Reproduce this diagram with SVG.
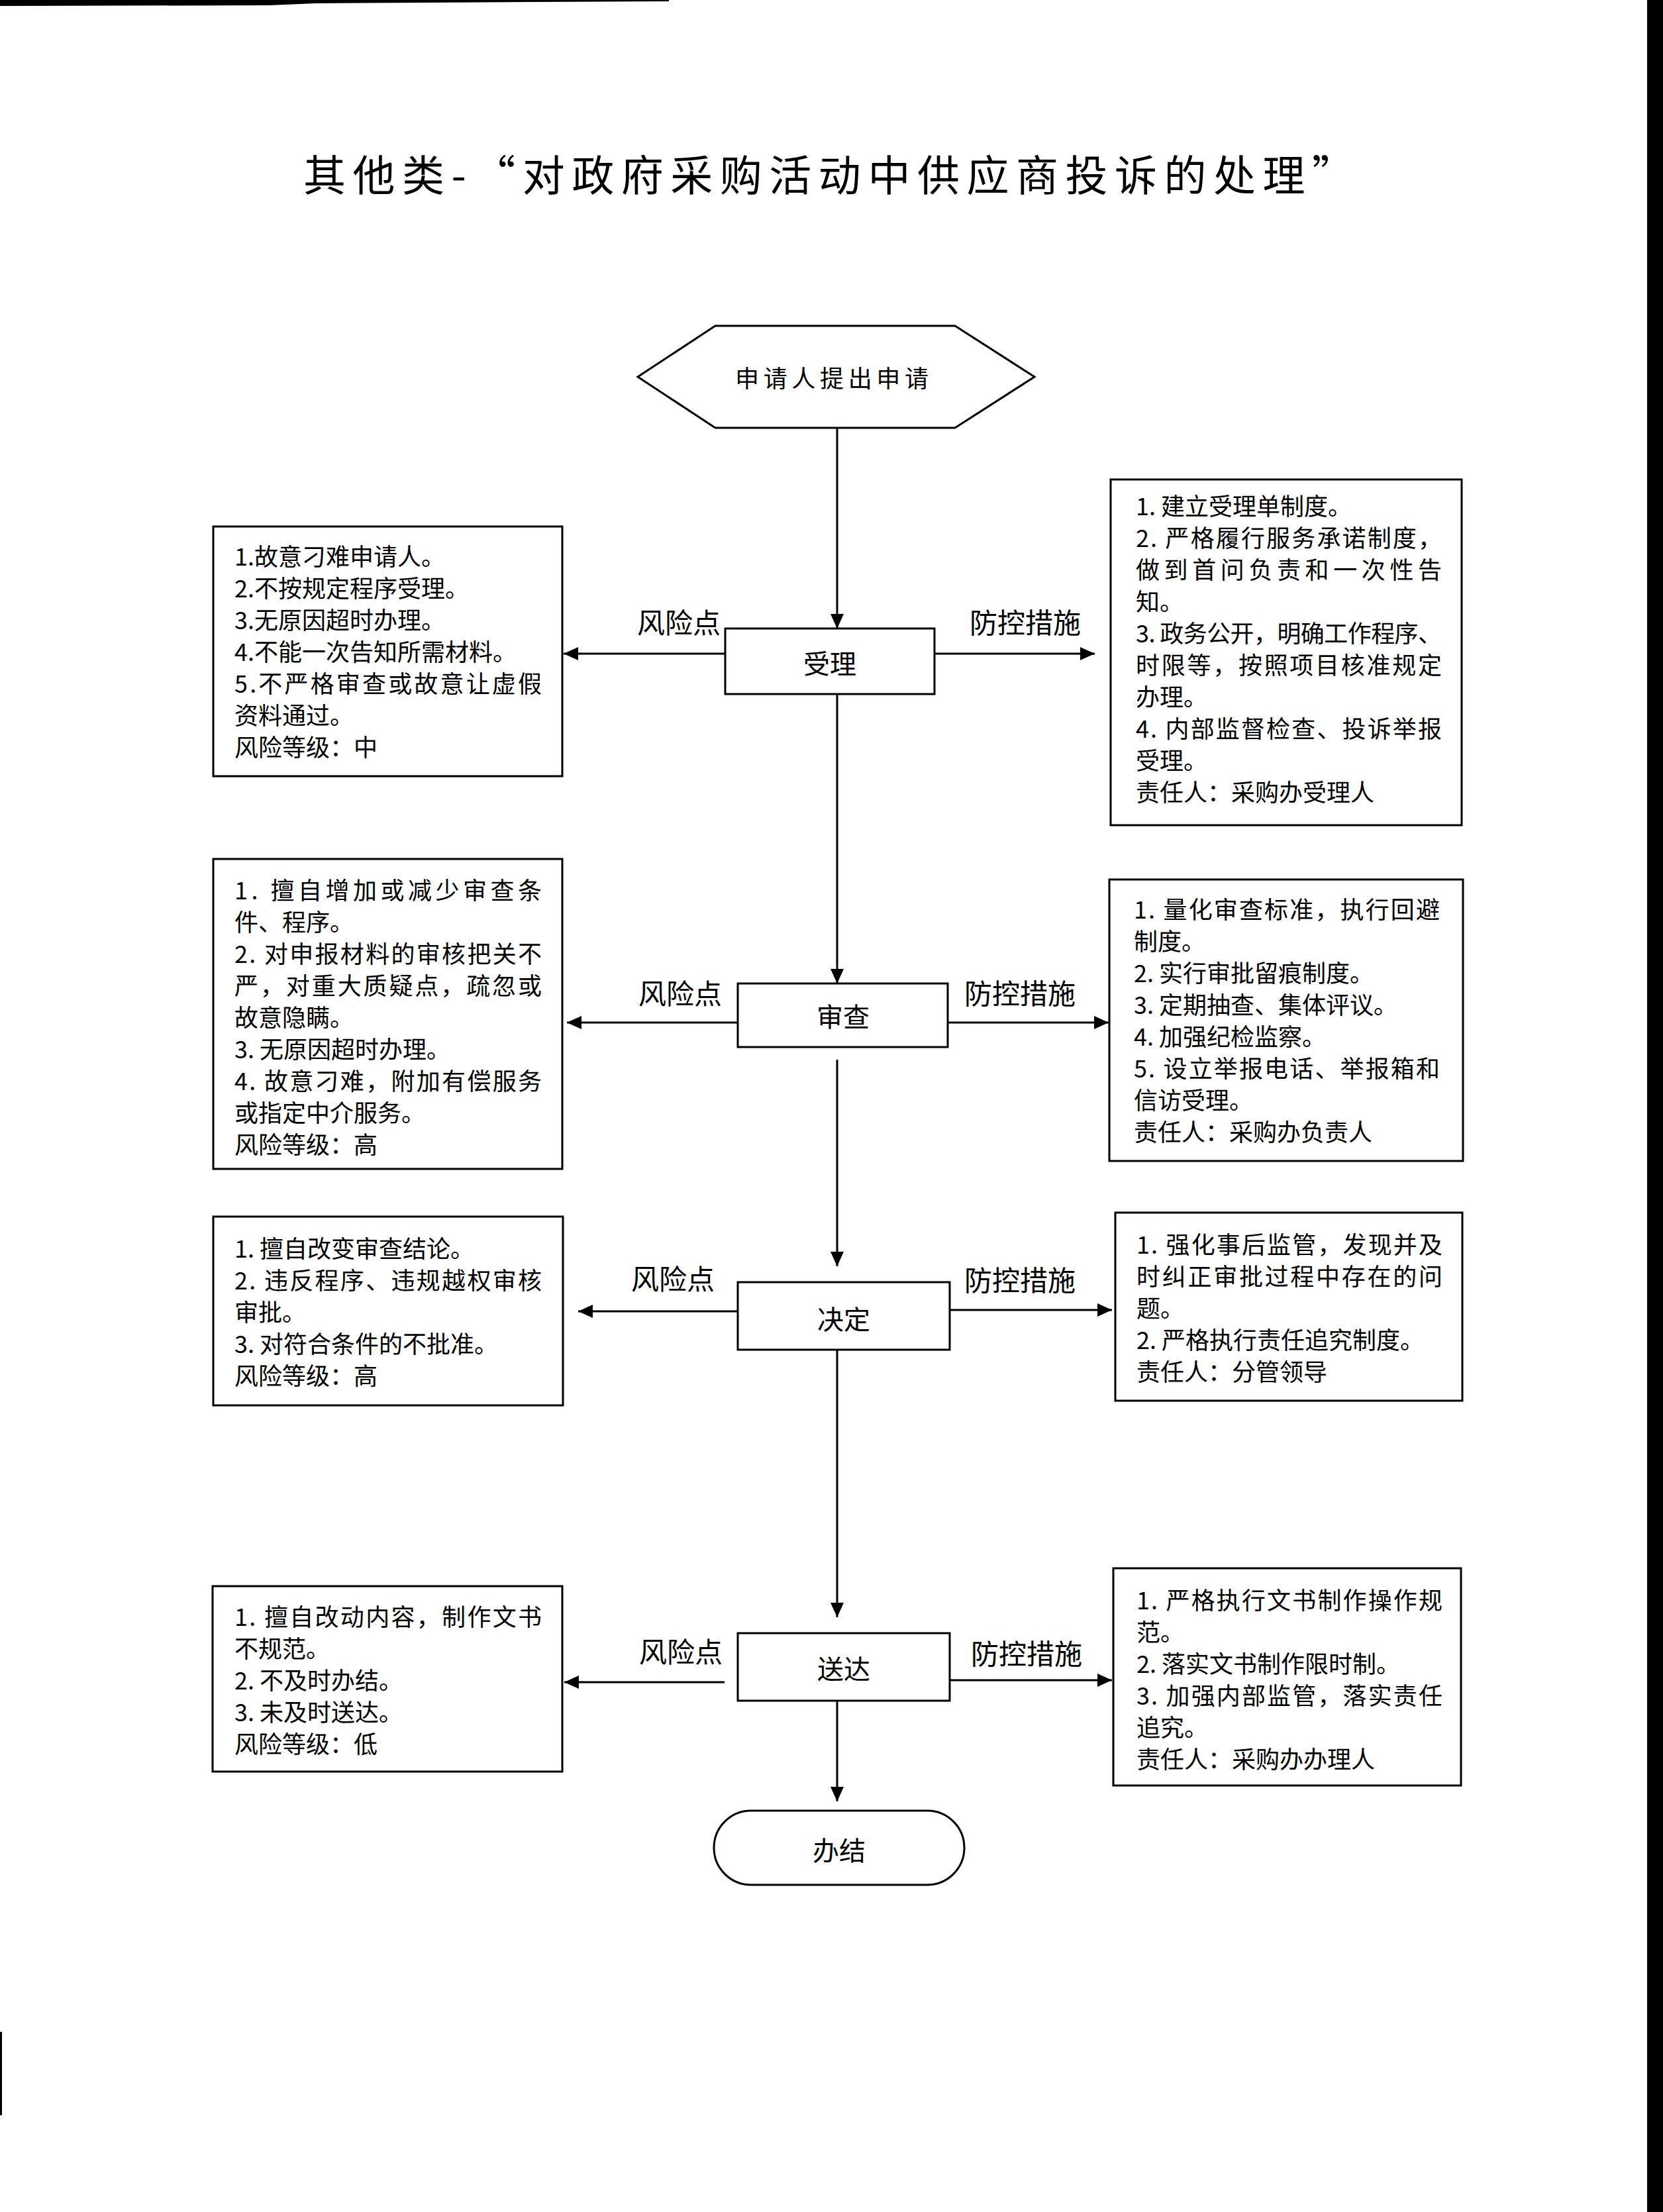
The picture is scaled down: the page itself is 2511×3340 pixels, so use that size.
<svg xmlns="http://www.w3.org/2000/svg" width="2511" height="3340" viewBox="0 0 2511 3340">
<style>
.box{fill:#fff;stroke:#000;stroke-width:3}
.ln{stroke:#000;stroke-width:3;fill:none}
.t{font-family:"Noto Sans CJK SC","Noto Sans",sans-serif;font-size:36px;fill:#000;dominant-baseline:central}
.lbl{font-size:42px;text-anchor:middle}
.nd{font-size:40px;text-anchor:middle}
.ttl{font-size:64px}
</style>
<defs>
<marker id="ah" viewBox="0 0 22 20" refX="22" refY="10" markerWidth="22" markerHeight="20" markerUnits="userSpaceOnUse" orient="auto">
<path d="M0,0 L22,10 L0,20 z" fill="#000"/>
</marker>
</defs>
<rect x="0" y="0" width="2511" height="3340" fill="#fff"/>
<!-- scan edges -->
<polygon points="0,0 1010,0 1010,2 800,3 477,5 407,8 0,9" fill="#000"/>
<rect x="2487" y="0" width="24" height="3340" fill="#000"/>
<rect x="0" y="3068" width="3" height="126" fill="#000"/>

<text class="t ttl" x="458" y="260" textLength="1587" lengthAdjust="spacing">其他类-“对政府采购活动中供应商投诉的处理”</text>

<g id="connectors">
<line class="ln" x1="1264" y1="646" x2="1264" y2="949" marker-end="url(#ah)"/>
<line class="ln" x1="1264" y1="1048" x2="1264" y2="1485" marker-end="url(#ah)"/>
<line class="ln" x1="1264" y1="1600" x2="1264" y2="1912" marker-end="url(#ah)"/>
<line class="ln" x1="1264" y1="2038" x2="1264" y2="2442" marker-end="url(#ah)"/>
<line class="ln" x1="1264" y1="2568" x2="1264" y2="2720" marker-end="url(#ah)"/>
<line class="ln" x1="1095" y1="987" x2="851" y2="987" marker-end="url(#ah)"/>
<line class="ln" x1="1411" y1="987" x2="1653" y2="987" marker-end="url(#ah)"/>
<line class="ln" x1="1114" y1="1544" x2="856" y2="1544" marker-end="url(#ah)"/>
<line class="ln" x1="1431" y1="1544" x2="1674" y2="1544" marker-end="url(#ah)"/>
<line class="ln" x1="1114" y1="1980" x2="873" y2="1980" marker-end="url(#ah)" stroke-width="4"/>
<line class="ln" x1="1434" y1="1978" x2="1679" y2="1978" marker-end="url(#ah)" stroke-width="4"/>
<line class="ln" x1="1094" y1="2540" x2="852" y2="2540" marker-end="url(#ah)" stroke-width="4"/>
<line class="ln" x1="1434" y1="2537" x2="1679" y2="2537" marker-end="url(#ah)" stroke-width="4"/>
<text class="t lbl" x="1025" y="937">风险点</text>
<text class="t lbl" x="1548" y="937">防控措施</text>
<text class="t lbl" x="1027" y="1497">风险点</text>
<text class="t lbl" x="1540" y="1497">防控措施</text>
<text class="t lbl" x="1016" y="1928">风险点</text>
<text class="t lbl" x="1540" y="1930">防控措施</text>
<text class="t lbl" x="1028" y="2491">风险点</text>
<text class="t lbl" x="1550" y="2494">防控措施</text>
</g>

<g id="start">
<polygon class="box" points="963,569 1080,492 1442,492 1562,569 1442,646 1080,646"/>
<text class="t" x="1110" y="569" font-size="40" textLength="292" lengthAdjust="spacing">申请人提出申请</text>
</g>

<g id="shouli">
<rect class="box" x="1095" y="949" width="316" height="99"/>
<text class="t nd" x="1253" y="1000">受理</text>
</g>
<g id="shencha">
<rect class="box" x="1114" y="1485" width="317" height="96"/>
<text class="t nd" x="1273" y="1533">审查</text>
</g>
<g id="jueding">
<rect class="box" x="1114" y="1936" width="320" height="102"/>
<text class="t nd" x="1274" y="1990">决定</text>
</g>
<g id="songda">
<rect class="box" x="1114" y="2466" width="320" height="102"/>
<text class="t nd" x="1274" y="2518">送达</text>
</g>
<g id="banjie">
<rect class="box" x="1078" y="2734" width="378" height="112" rx="56" ry="56"/>
<text class="t nd" x="1267" y="2792">办结</text>
</g>

<g id="risk1">
<rect class="box" x="322" y="795" width="527" height="377"/>
<text class="t" x="354" y="838">1.故意刁难申请人。</text>
<text class="t" x="354" y="886">2.不按规定程序受理。</text>
<text class="t" x="354" y="934">3.无原因超时办理。</text>
<text class="t" x="354" y="982">4.不能一次告知所需材料。</text>
<text class="t" x="354" y="1030" textLength="464" lengthAdjust="spacing">5.不严格审查或故意让虚假</text>
<text class="t" x="354" y="1078">资料通过。</text>
<text class="t" x="354" y="1126">风险等级：中</text>
</g>

<g id="measure1">
<rect class="box" x="1677" y="724" width="530" height="522"/>
<text class="t" x="1715" y="762">1. 建立受理单制度。</text>
<text class="t" x="1715" y="810" textLength="462" lengthAdjust="spacing">2. 严格履行服务承诺制度，</text>
<text class="t" x="1715" y="858" textLength="462" lengthAdjust="spacing">做到首问负责和一次性告</text>
<text class="t" x="1715" y="906">知。</text>
<text class="t" x="1715" y="954" textLength="462" lengthAdjust="spacing">3. 政务公开，明确工作程序、</text>
<text class="t" x="1715" y="1002" textLength="462" lengthAdjust="spacing">时限等，按照项目核准规定</text>
<text class="t" x="1715" y="1050">办理。</text>
<text class="t" x="1715" y="1098" textLength="462" lengthAdjust="spacing">4. 内部监督检查、投诉举报</text>
<text class="t" x="1715" y="1146">受理。</text>
<text class="t" x="1715" y="1194">责任人：采购办受理人</text>
</g>

<g id="risk2">
<rect class="box" x="322" y="1297" width="527" height="468"/>
<text class="t" x="354" y="1342" textLength="464" lengthAdjust="spacing">1. 擅自增加或减少审查条</text>
<text class="t" x="354" y="1390">件、程序。</text>
<text class="t" x="354" y="1438" textLength="464" lengthAdjust="spacing">2. 对申报材料的审核把关不</text>
<text class="t" x="354" y="1486" textLength="464" lengthAdjust="spacing">严，对重大质疑点，疏忽或</text>
<text class="t" x="354" y="1534">故意隐瞒。</text>
<text class="t" x="354" y="1582">3. 无原因超时办理。</text>
<text class="t" x="354" y="1630" textLength="464" lengthAdjust="spacing">4. 故意刁难，附加有偿服务</text>
<text class="t" x="354" y="1678">或指定中介服务。</text>
<text class="t" x="354" y="1726">风险等级：高</text>
</g>

<g id="measure2">
<rect class="box" x="1675" y="1328" width="534" height="425"/>
<text class="t" x="1712" y="1371" textLength="462" lengthAdjust="spacing">1. 量化审查标准，执行回避</text>
<text class="t" x="1712" y="1419">制度。</text>
<text class="t" x="1712" y="1467">2. 实行审批留痕制度。</text>
<text class="t" x="1712" y="1515">3. 定期抽查、集体评议。</text>
<text class="t" x="1712" y="1563">4. 加强纪检监察。</text>
<text class="t" x="1712" y="1611" textLength="462" lengthAdjust="spacing">5. 设立举报电话、举报箱和</text>
<text class="t" x="1712" y="1659">信访受理。</text>
<text class="t" x="1712" y="1707">责任人：采购办负责人</text>
</g>

<g id="risk3">
<rect class="box" x="322" y="1837" width="528" height="285"/>
<text class="t" x="354" y="1883">1. 擅自改变审查结论。</text>
<text class="t" x="354" y="1931" textLength="464" lengthAdjust="spacing">2. 违反程序、违规越权审核</text>
<text class="t" x="354" y="1979">审批。</text>
<text class="t" x="354" y="2027">3. 对符合条件的不批准。</text>
<text class="t" x="354" y="2075">风险等级：高</text>
</g>

<g id="measure3">
<rect class="box" x="1684" y="1831" width="524" height="284"/>
<text class="t" x="1716" y="1877" textLength="462" lengthAdjust="spacing">1. 强化事后监管，发现并及</text>
<text class="t" x="1716" y="1925" textLength="462" lengthAdjust="spacing">时纠正审批过程中存在的问</text>
<text class="t" x="1716" y="1973">题。</text>
<text class="t" x="1716" y="2021">2. 严格执行责任追究制度。</text>
<text class="t" x="1716" y="2069">责任人：分管领导</text>
</g>

<g id="risk4">
<rect class="box" x="321" y="2395" width="528" height="280"/>
<text class="t" x="354" y="2439" textLength="464" lengthAdjust="spacing">1. 擅自改动内容，制作文书</text>
<text class="t" x="354" y="2487">不规范。</text>
<text class="t" x="354" y="2535">2. 不及时办结。</text>
<text class="t" x="354" y="2583">3. 未及时送达。</text>
<text class="t" x="354" y="2631">风险等级：低</text>
</g>

<g id="measure4">
<rect class="box" x="1681" y="2368" width="525" height="328"/>
<text class="t" x="1716" y="2414" textLength="462" lengthAdjust="spacing">1. 严格执行文书制作操作规</text>
<text class="t" x="1716" y="2462">范。</text>
<text class="t" x="1716" y="2510">2. 落实文书制作限时制。</text>
<text class="t" x="1716" y="2558" textLength="462" lengthAdjust="spacing">3. 加强内部监管，落实责任</text>
<text class="t" x="1716" y="2606">追究。</text>
<text class="t" x="1716" y="2654">责任人：采购办办理人</text>
</g>
</svg>
